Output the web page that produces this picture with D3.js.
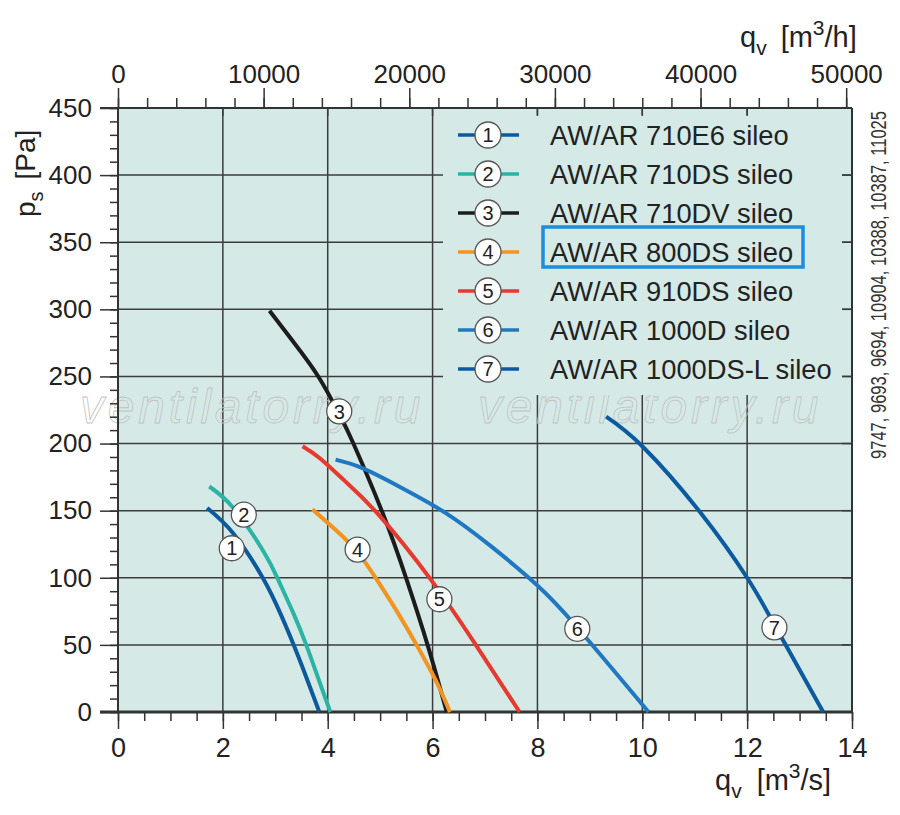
<!DOCTYPE html>
<html>
<head>
<meta charset="utf-8">
<script src="https://cdn.jsdelivr.net/npm/d3@7"></script>
<style>
body{margin:0;background:#fff;}
svg text{font-family:"Liberation Sans",Arial,Helvetica,sans-serif;fill:#222;}
</style>
</head>
<body>
<div id="chart"></div>
<script>
// fan curves: [q m3/s, ps Pa]
var models = ["AW/AR 710E6 sileo","AW/AR 710DS sileo","AW/AR 710DV sileo","AW/AR 800DS sileo",
	"AW/AR 910DS sileo","AW/AR 1000D sileo","AW/AR 1000DS-L sileo"];
var colors = ["#0c5a9c","#2bb3a3","#1c1c1c","#f39320","#e63a2e","#1f78c1","#0c5aa0"];

var curve1 = [[1.70,152],[2.20,133],[2.76,100],[3.09,74],[3.34,51],[3.60,25],[3.84,0]];
var curve2 = [[1.74,168],[2.20,152],[2.77,120],[3.05,99],[3.34,74],[3.59,50],[3.82,25],[4.05,0]];
var curve3 = [[2.89,299],[3.34,276],[3.82,250],[4.22,222],[4.49,200],[5.05,148],[5.51,98],[5.92,48],[6.27,0]];
var curve4 = [[3.71,151],[4.17,135],[4.57,119],[4.93,99],[5.32,75],[5.71,49],[6.08,22],[6.33,0]];
var curve5 = [[3.52,198],[3.85,189],[4.33,172],[4.97,147],[5.96,99],[6.79,52],[7.66,0]];
var curve6 = [[4.15,188],[4.64,182],[5.36,168],[6.26,148],[7.13,123],[7.98,95],[8.76,63],[10.12,0]];
var curve7 = [[9.31,220],[10.0,198],[11.1,149],[12.0,100],[12.52,65],[13.45,0]];
var curves = [curve1,curve2,curve3,curve4,curve5,curve6,curve7];

// where the numbered circles sit on each curve
var labelQ = [2.17,2.40,4.22,4.57,6.13,8.76,12.52];
var labelP = [122,147,224,121,84,62,63];

var psTicks = [0,50,100,150,200,250,300,350,400,450];
var qsTicks = [0,2,4,6,8,10,12,14];
var qhTicks = [0,10000,20000,30000,40000,50000];
var typeNumbers = "9747, 9693, 9694, 10904, 10388, 10387, 11025";
var highlighted = 3;

var svg = d3.select("#chart").append("svg").attr("width",900).attr("height",815);

var x = d3.scaleLinear().domain([0,14]).range([118,852]);
var xh = d3.scaleLinear().domain([0,14*3600]).range([118,852]);
var y = d3.scaleLinear().domain([0,450]).range([712,108]);

var plotBg = "#d5eae7", gridCol = "#3c3c3c";

svg.append("rect").attr("x",x(0)).attr("y",y(450)).attr("width",x(14)-x(0)).attr("height",y(0)-y(450))
	.style("fill",plotBg);

// grid
svg.selectAll(".vgrid").data(qsTicks.slice(1,-1)).enter().append("line")
	.attr("class","vgrid")
	.attr("x1",function(d){return x(d);}).attr("x2",function(d){return x(d);})
	.attr("y1",y(450)).attr("y2",y(0))
	.style("stroke",gridCol).style("stroke-width",1.5);
svg.selectAll(".hgrid").data(psTicks.slice(1,-1)).enter().append("line")
	.attr("class","hgrid")
	.attr("x1",x(0)).attr("x2",x(14))
	.attr("y1",function(d){return y(d);}).attr("y2",function(d){return y(d);})
	.style("stroke",gridCol).style("stroke-width",1.5);

// watermark
[80,478].forEach(function(wx){
	svg.append("text").attr("x",wx).attr("y",423)
		.text("ventilatorry.ru")
		.style("font-size","48px").style("font-style","italic")
		.style("letter-spacing","3.8px")
		.style("fill","none").style("stroke","#c2c2c2").style("stroke-width",0.8);
});

// legend box covers the grid
svg.append("rect").attr("x",443).attr("y",115).attr("width",842-443).attr("height",395-115)
	.style("fill",plotBg);
svg.selectAll(".rtick").data(psTicks.slice(1,-1)).enter().append("line")
	.attr("x1",842).attr("x2",x(14))
	.attr("y1",function(d){return y(d);}).attr("y2",function(d){return y(d);})
	.style("stroke",gridCol).style("stroke-width",1.5);
svg.selectAll(".ttick").data(qsTicks.slice(1,-1)).enter().append("line")
	.attr("x1",function(d){return x(d);}).attr("x2",function(d){return x(d);})
	.attr("y1",y(450)).attr("y2",116)
	.style("stroke",gridCol).style("stroke-width",1.5);

// axes
function styleAxis(g){
	g.select(".domain").remove();
	g.selectAll(".tick line").style("stroke","#333").style("stroke-width",1.5);
	g.selectAll(".tick text").style("font-size","26px").style("fill","#222")
		.style("font-family","'Liberation Sans',Arial,sans-serif");
}
svg.append("g").attr("transform","translate("+x(0)+",0)")
	.call(d3.axisLeft(y).tickValues(d3.range(0,451,10)).tickSize(8).tickFormat(""))
	.call(styleAxis);
svg.append("g").attr("transform","translate("+x(0)+",0)")
	.call(d3.axisLeft(y).tickValues(psTicks).tickSize(18).tickPadding(8))
	.call(styleAxis);
svg.append("g").attr("transform","translate(0,"+y(0)+")")
	.call(d3.axisBottom(x).tickValues(d3.range(0,14.01,0.5)).tickSize(9).tickFormat(""))
	.call(styleAxis);
svg.append("g").attr("transform","translate(0,"+y(0)+")")
	.call(d3.axisBottom(x).tickValues(qsTicks).tickSize(17).tickPadding(9))
	.call(styleAxis)
	.selectAll(".tick text").style("font-size","27px");
svg.append("g").attr("transform","translate(0,"+y(450)+")")
	.call(d3.axisTop(xh).tickValues(d3.range(0,50001,2000)).tickSize(10).tickFormat(""))
	.call(styleAxis);
svg.append("g").attr("transform","translate(0,"+y(450)+")")
	.call(d3.axisTop(xh).tickValues(qhTicks).tickSize(20).tickPadding(5).tickFormat(d3.format("d")))
	.call(styleAxis);

// frame
svg.append("line").attr("x1",100).attr("x2",x(14)).attr("y1",y(450)).attr("y2",y(450))
	.style("stroke","#333").style("stroke-width",2);
svg.append("line").attr("x1",x(0)).attr("x2",x(0)).attr("y1",y(450)).attr("y2",y(0))
	.style("stroke","#333").style("stroke-width",2);
svg.append("line").attr("x1",x(14)).attr("x2",x(14)).attr("y1",y(450)).attr("y2",y(0))
	.style("stroke","#333").style("stroke-width",2);
svg.append("line").attr("x1",100).attr("x2",x(14)+1).attr("y1",y(0)).attr("y2",y(0))
	.style("stroke","#333").style("stroke-width",3);

// curves
var line = d3.line()
	.x(function(d){return x(d[0]);})
	.y(function(d){return y(d[1]);})
	.curve(d3.curveNatural);

svg.selectAll(".fan").data(curves).enter().append("path")
	.attr("class","fan")
	.attr("d",line)
	.style("fill","none")
	.style("stroke",function(d,i){return colors[i];})
	.style("stroke-width",4)
	.style("stroke-linecap","butt");

var marks = svg.selectAll(".mark").data(labelQ).enter().append("g")
	.attr("class","mark")
	.attr("transform",function(d,i){return "translate("+x(d)+","+y(labelP[i])+")";});
marks.append("circle").attr("r",12.5).style("fill","#fff").style("stroke","#555").style("stroke-width",1.3);
marks.append("text").attr("text-anchor","middle").attr("dy","0.36em")
	.style("font-size","20px").text(function(d,i){return i+1;});

// legend
var leg = svg.selectAll(".leg").data(models).enter().append("g")
	.attr("class","leg")
	.attr("transform",function(d,i){return "translate(0,"+(135+39*i)+")";});
leg.append("line").attr("x1",458).attr("x2",519).attr("y1",0).attr("y2",0)
	.style("stroke",function(d,i){return colors[i];}).style("stroke-width",3.5);
leg.append("circle").attr("cx",488).attr("r",13).style("fill","#fff").style("stroke","#555").style("stroke-width",1.3);
leg.append("text").attr("x",488).attr("dy","0.36em").attr("text-anchor","middle")
	.style("font-size","20px").text(function(d,i){return i+1;});
leg.append("text").attr("x",550).attr("dy","0.36em")
	.style("font-size","27.3px").text(function(d){return d;});

svg.append("rect").attr("x",543).attr("y",135+39*highlighted-25).attr("width",260).attr("height",40)
	.style("fill","none").style("stroke","#1a8fe0").style("stroke-width",3.5);

// axis titles
var tTop = svg.append("text").attr("x",740).attr("y",47).style("font-size","29px");
tTop.append("tspan").text("q");
tTop.append("tspan").attr("dy",8).style("font-size","21px").text("v");
tTop.append("tspan").attr("dy",-8).attr("dx",14).text("[m");
tTop.append("tspan").attr("dy",-12).style("font-size","21px").text("3");
tTop.append("tspan").attr("dy",12).text("/h]");

var tBot = svg.append("text").attr("x",715).attr("y",790).style("font-size","29px");
tBot.append("tspan").text("q");
tBot.append("tspan").attr("dy",8).style("font-size","21px").text("v");
tBot.append("tspan").attr("dy",-8).attr("dx",15).text("[m");
tBot.append("tspan").attr("dy",-12).style("font-size","21px").text("3");
tBot.append("tspan").attr("dy",12).text("/s]");

var tLeft = svg.append("text").attr("transform","translate(35,217) rotate(-90)").style("font-size","28px");
tLeft.append("tspan").text("p");
tLeft.append("tspan").attr("dy",8).style("font-size","20px").text("s");
tLeft.append("tspan").attr("dy",-8).attr("dx",12).text("[Pa]");

svg.append("text").attr("transform","translate(886,285) rotate(-90)")
	.attr("text-anchor","middle")
	.attr("textLength",348).attr("lengthAdjust","spacingAndGlyphs")
	.style("font-family","'Liberation Sans Narrow','Liberation Sans',Arial,sans-serif")
	.style("font-size","22px").style("fill","#333")
	.text(typeNumbers);
</script>
</body>
</html>
